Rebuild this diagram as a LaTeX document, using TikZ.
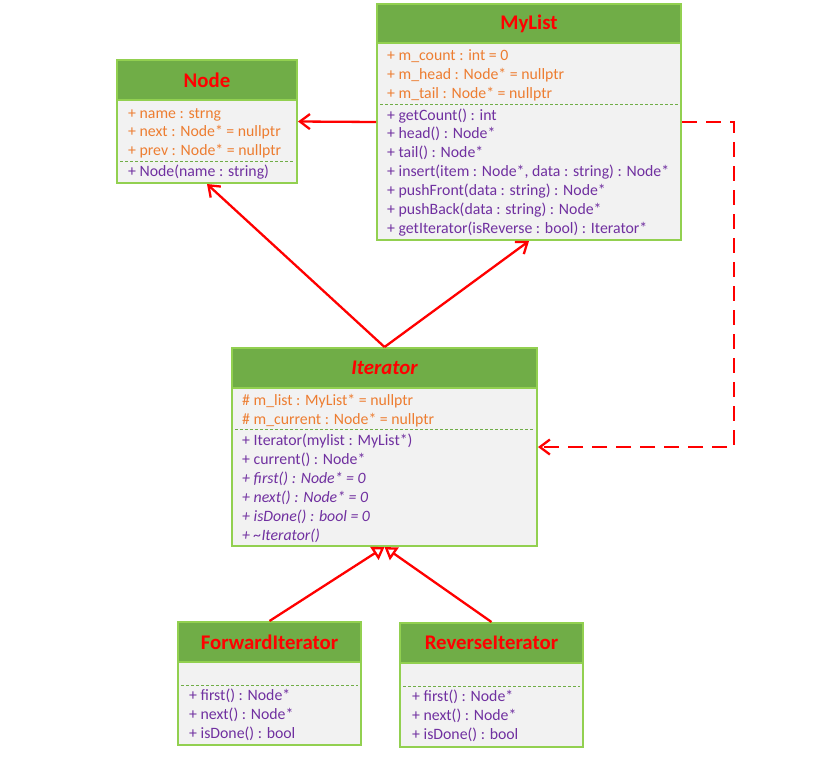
\documentclass[tikz,border=0pt]{standalone}
\usepackage{fontspec}
\setmainfont{Carlito}
\usetikzlibrary{arrows.meta}

\definecolor{headgreen}{HTML}{70AD47}
\definecolor{boxline}{HTML}{92D050}
\definecolor{boxfill}{HTML}{F2F2F2}
\definecolor{attrorange}{HTML}{ED7D31}
\definecolor{methpurple}{HTML}{7030A0}

\tikzset{
  classbox/.style={draw=boxline, fill=boxfill, line width=2pt, inner sep=0pt},
  classhead/.style={draw=boxline, fill=headgreen, line width=2pt, inner sep=0pt,
    text=red, font=\fontsize{20.8}{21}\selectfont\bfseries},
  attr/.style={anchor=base west, inner sep=0pt, text=attrorange, font=\fontsize{15.8}{19}\selectfont},
  meth/.style={anchor=base west, inner sep=0pt, text=methpurple, font=\fontsize{15.8}{19}\selectfont},
  sep/.style={draw=headgreen, line width=1pt, dash pattern=on 3pt off 2pt},
  assoc/.style={red, line width=2.3pt, -{Straight Barb[length=10pt,width=15pt]}},
  inherit/.style={red, line width=2.3pt, -{Triangle[open,length=12pt,width=15pt,fill=white]}}
}

\begin{document}
\begin{tikzpicture}[x=1pt,y=-1pt]
\useasboundingbox[fill=white] (0,0) rectangle (838,756);

% MyList
\node[classbox, minimum width=304, minimum height=236] (mylist) at (529,122) {};
\node[classhead, minimum width=304, minimum height=39] (mylist-h) at (529,23.5) {MyList};
\draw[sep] ([xshift=4pt]mylist.west |- 0,104) -- ([xshift=-4pt]mylist.east |- 0,104);
\foreach \txt [count=\i] in {{+ m\_count : int = 0}, {+ m\_head : Node* = nullptr}, {+ m\_tail : Node* = nullptr}}
  \node[attr] (mylist-a\i) at (387,{60+19*(\i-1)}) {\txt};
\foreach \txt [count=\i] in {{+ getCount() : int}, {+ head() : Node*}, {+ tail() : Node*},
    {+ insert(item : Node*, data : string) : Node*}, {+ pushFront(data : string) : Node*},
    {+ pushBack(data : string) : Node*}, {+ getIterator(isReverse : bool) : Iterator*}}
  \node[meth] (mylist-m\i) at (387,{120+18.9*(\i-1)}) {\txt};

% Node
\node[classbox, minimum width=180, minimum height=123] (node) at (207,121.5) {};
\node[classhead, minimum width=180, minimum height=40] (node-h) at (207,80) {Node};
\draw[sep] ([xshift=4pt]node.west |- 0,161) -- ([xshift=-4pt]node.east |- 0,161);
\foreach \txt [count=\i] in {{+ name : strng}, {+ next : Node* = nullptr}, {+ prev : Node* = nullptr}}
  \node[attr] (node-a\i) at (128,{118+18.5*(\i-1)}) {\txt};
\node[meth] (node-m1) at (128,176) {+ Node(name : string)};

% Iterator
\node[classbox, minimum width=305, minimum height=198] (iterator) at (384.5,447) {};
\node[classhead, minimum width=305, minimum height=40, font=\fontsize{20.8}{21}\selectfont\bfseries\itshape] (iterator-h) at (384.5,368) {Iterator};
\draw[sep] ([xshift=4pt]iterator.west |- 0,429) -- ([xshift=-4pt]iterator.east |- 0,429);
\node[attr] (iterator-a1) at (242,405) {\# m\_list : MyList* = nullptr};
\node[attr] (iterator-a2) at (242,424) {\# m\_current : Node* = nullptr};
\node[meth] (iterator-m1) at (242,445) {+ Iterator(mylist : MyList*)};
\node[meth] (iterator-m2) at (242,464) {+ current() : Node*};
\foreach \txt [count=\i] in {{+ first() : Node* = 0}, {+ next() : Node* = 0}, {+ isDone() : bool = 0}, {+ \textasciitilde Iterator()}}
  \node[meth, font=\fontsize{15.8}{19}\selectfont\itshape] (iterator-v\i) at (242,{483+19*(\i-1)}) {\txt};

% ForwardIterator
\node[classbox, minimum width=183, minimum height=123] (forward) at (269.5,683.5) {};
\node[classhead, minimum width=183, minimum height=40] (forward-h) at (269.5,642) {ForwardIterator};
\draw[sep] ([xshift=4pt]forward.west |- 0,685) -- ([xshift=-4pt]forward.east |- 0,685);
\foreach \txt [count=\i] in {{+ first() : Node*}, {+ next() : Node*}, {+ isDone() : bool}}
  \node[meth] (forward-m\i) at (189,{700+19*(\i-1)}) {\txt};

% ReverseIterator
\node[classbox, minimum width=183, minimum height=124] (reverse) at (491.5,685) {};
\node[classhead, minimum width=183, minimum height=40] (reverse-h) at (491.5,643) {ReverseIterator};
\draw[sep] ([xshift=4pt]reverse.west |- 0,686) -- ([xshift=-4pt]reverse.east |- 0,686);
\foreach \txt [count=\i] in {{+ first() : Node*}, {+ next() : Node*}, {+ isDone() : bool}}
  \node[meth] (reverse-m\i) at (412,{701+19*(\i-1)}) {\txt};

% connectors
\draw[assoc] (mylist.west) -- (node.east);
\draw[assoc] (iterator.north) -- (node.south);
\draw[assoc] (iterator.north) -- (mylist.south);
\draw[assoc, dash pattern=on 15pt off 9pt] (mylist.east) -- ++(52,0) |- (iterator.east);
\draw[inherit] (forward.north) -- (iterator.south);
\draw[inherit] (reverse.north) -- (iterator.south);
\end{tikzpicture}
\end{document}
